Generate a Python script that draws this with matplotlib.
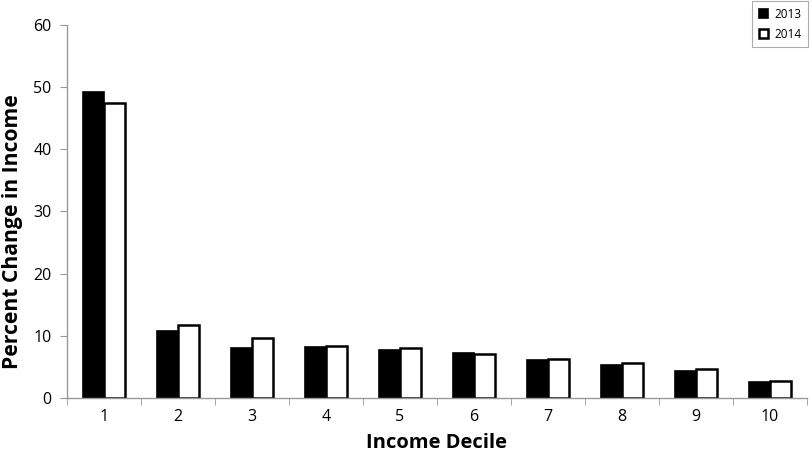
import matplotlib.pyplot as plt
import numpy as np

deciles = ['1', '2', '3', '4', '5', '6', '7', '8', '9', '10']
values_2013 = [49.2, 10.7, 8.0, 8.15, 7.8, 7.3, 6.15, 5.25, 4.4, 2.55]
values_2014 = [47.5, 11.7, 9.6, 8.4, 8.1, 7.1, 6.3, 5.6, 4.6, 2.75]

plt.rcParams['font.family'] = ['Open Sans', 'DejaVu Sans']

fig = plt.figure(figsize=(8.12, 4.63), dpi=100)
ax = fig.add_axes([0.0825, 0.1404, 0.9113, 0.8056])

x = np.arange(len(deciles))
w = 0.29
ax.bar(x - w / 2, values_2013, w, color='black', edgecolor='black', linewidth=1.2, label='2013')
ax.bar(x + w / 2, values_2014, w, color='white', edgecolor='black', linewidth=1.8, label='2014')

ax.set_xlim(-0.5, len(deciles) - 0.5)
ax.set_ylim(0, 60)
ax.set_yticks(range(0, 61, 10))
ax.set_xticks(x)
ax.set_xticklabels(deciles, fontsize=11.5)
ax.set_xticks(np.arange(-0.5, len(deciles), 1.0), minor=True)
ax.tick_params(axis='x', which='major', length=0, pad=8)
ax.tick_params(axis='x', which='minor', length=5, color='#999999', direction='out')
ax.tick_params(axis='y', labelsize=11.5, length=5, color='#999999', pad=6)

for s in ['top', 'right']:
    ax.spines[s].set_visible(False)
for s in ['left', 'bottom']:
    ax.spines[s].set_color('#999999')
    ax.spines[s].set_linewidth(1.0)

ax.set_xlabel('Income Decile', fontsize=14.5, fontweight='bold', labelpad=6)
ax.set_ylabel('Percent Change in Income', fontsize=15.2, fontweight='bold')
ax.yaxis.set_label_coords(-0.06, 0.445)

leg = fig.legend(loc='upper right', bbox_to_anchor=(0.996, 1.0), fontsize=8.5,
                 frameon=True, fancybox=False, edgecolor='#999999',
                 handlelength=0.8, handleheight=0.8, handletextpad=0.5,
                 borderpad=0.55, labelspacing=0.6, borderaxespad=0.1)
leg.get_frame().set_linewidth(0.8)

fig.savefig('out.png', dpi=100)
